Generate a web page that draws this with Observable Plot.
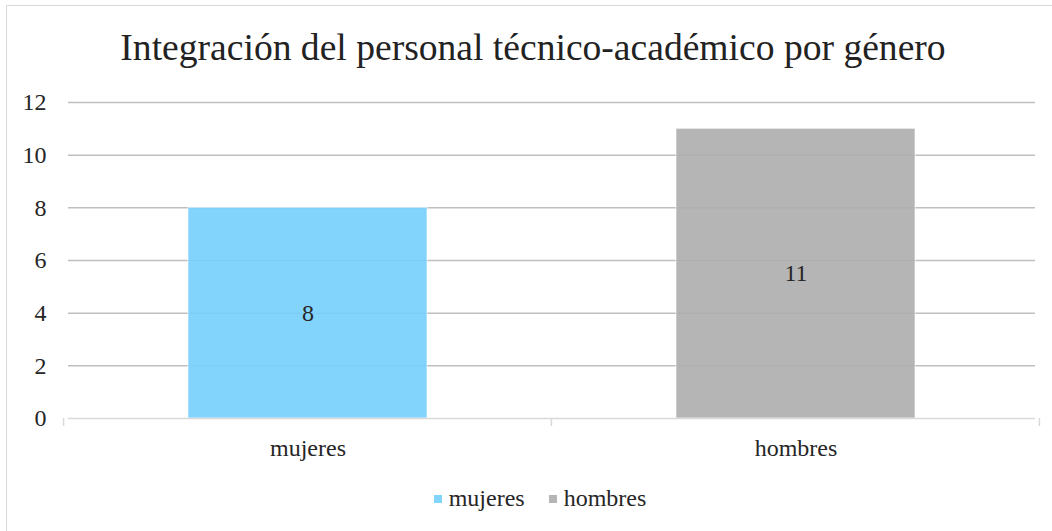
<!DOCTYPE html>
<html><head><meta charset="utf-8">
<script src="https://cdn.jsdelivr.net/npm/d3@7"></script>
<script src="https://cdn.jsdelivr.net/npm/@observablehq/plot@0.6"></script>
<style>
body{margin:0;background:#fff;font-family:'Liberation Serif','Times New Roman',serif;overflow:hidden}
#frame{position:absolute;left:6px;top:5px;width:1200px;height:700px;border-left:1px solid #d9d9d9;border-top:1px solid #d9d9d9;pointer-events:none}
#title{height:80px;line-height:80px;padding-top:8px;padding-left:14px;text-align:center;font-size:37.6px;color:#222;white-space:nowrap}
#chart svg{display:block;overflow:visible}
#chart svg text{font-family:'Liberation Serif','Times New Roman',serif}
#legend{height:40px;line-height:40px;display:flex;justify-content:center;align-items:center;padding-left:28px;font-size:24px;color:#262626}
.item{display:flex;align-items:center;margin:0 12px}
.sw{width:8px;height:8px;margin-right:7px;margin-top:1px}
</style></head>
<body>
<div id="frame"></div>
<div id="title">Integración del personal técnico-académico por género</div>
<div id="chart"></div>
<div id="legend"></div>
<script>
const categories = ["mujeres", "hombres"];
const values = [8, 11];
const colors = ["#76cffd", "#adadad"];
const yTicks = [0, 2, 4, 6, 8, 10, 12];

const data = categories.map((c, i) => ({categoria: c, valor: values[i]}));
const serif = "'Liberation Serif', 'Times New Roman', serif";

const plot = Plot.plot({
  width: 1052, height: 390,
  marginTop: 14, marginBottom: 60, marginLeft: 68, marginRight: 17,
  style: {fontFamily: serif, fontSize: "24px", color: "#262626", background: "transparent"},
  x: {domain: categories, paddingInner: 0.51, paddingOuter: 0.245, label: null},
  y: {domain: [0, 12], ticks: yTicks, label: null},
  color: {domain: categories, range: colors},
  marks: [
    Plot.gridY(yTicks.filter(t => t > 0), {stroke: "#bfbfbf", strokeOpacity: 1, strokeWidth: 1.5}),
    Plot.barY(data, {x: "categoria", y: "valor", fill: "categoria", fillOpacity: 0.9, stroke: "#ffffff", strokeOpacity: 0.6, strokeWidth: 1}),
    Plot.ruleY([0], {stroke: "#d9d9d9", strokeWidth: 1.5}),
    Plot.axisY(yTicks, {tickSize: 0, tickPadding: 22, fontSize: 24, fontFamily: serif, label: null, fill: "#262626"}),
    Plot.axisX({tickSize: 0, tickPadding: 20, fontSize: 24, fontFamily: serif, label: null, fill: "#262626"}),
    Plot.text(data, {x: "categoria", y: d => d.valor / 2, text: d => String(d.valor), fontSize: 24, fontFamily: serif, fill: "#262626"})
  ]
});
document.getElementById("chart").appendChild(plot);

// category boundary ticks on the x axis, from the plot's own scales
const sx = plot.scale("x"), sy = plot.scale("y");
const y0 = sy.apply(0);
const half = sx.step * 0.51 / 2;
const bounds = [sx.apply(categories[0]) - half].concat(categories.map(c => sx.apply(c) + sx.bandwidth + half));
d3.select(plot).append("g").selectAll("line").data(bounds).join("line")
  .attr("x1", d => d).attr("x2", d => d).attr("y1", y0).attr("y2", y0 + 8)
  .attr("stroke", "#d9d9d9").attr("stroke-width", 1.5);

const legend = d3.select("#legend");
categories.forEach((c, i) => {
  const it = legend.append("div").attr("class", "item");
  it.append("div").attr("class", "sw").style("background", d3.color(colors[i]).copy({opacity: 0.9}).toString());
  it.append("span").text(c);
});
</script>
</body></html>
